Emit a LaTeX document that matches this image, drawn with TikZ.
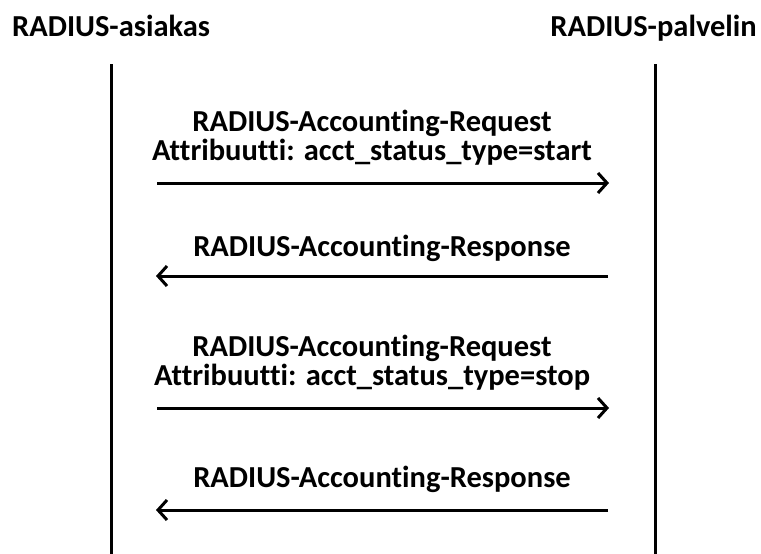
\documentclass[tikz,border=0pt]{standalone}
\usepackage{fontspec}
\setmainfont{Carlito}[Ligatures=CommonOff]
\usetikzlibrary{arrows.meta}
\begin{document}
\begin{tikzpicture}[x=1pt,y=-1pt,
  lifeline/.style={line width=3pt},
  msg/.style={line width=3pt,-{Straight Barb[length=9pt,width=20pt,line width=3pt]}},
  lbl/.style={font=\bfseries\fontsize{30.5}{29}\selectfont,align=center,inner sep=0pt,anchor=base},
  party/.style={font=\bfseries\fontsize{30.5}{29}\selectfont,inner sep=0pt,anchor=base}]
\useasboundingbox (0,0) rectangle (761,554);
% participants
\node[party,anchor=base west] (client) at (12,36) {RADIUS-asiakas};
\node[party,anchor=base east] (server) at (757,36) {RADIUS-palvelin};
% lifelines
\coordinate (ctop) at (111,64);
\coordinate (cbot) at (111,554);
\coordinate (stop) at (655,64);
\coordinate (sbot) at (655,554);
\draw[lifeline] (ctop) -- (cbot);
\draw[lifeline] (stop) -- (sbot);
% message endpoints
\coordinate (a1s) at (157,183); \coordinate (a1e) at (609,183);
\coordinate (a2s) at (608,276); \coordinate (a2e) at (156,276);
\coordinate (a3s) at (157,408); \coordinate (a3e) at (609,408);
\coordinate (a4s) at (608,510); \coordinate (a4e) at (156,510);
\draw[msg] (a1s) -- (a1e);
\draw[msg] (a2s) -- (a2e);
\draw[msg] (a3s) -- (a3e);
\draw[msg] (a4s) -- (a4e);
% message labels (two-line labels are anchored at the baseline of their last line)
\node[lbl] (m1) at (372,160) {RADIUS-Accounting-Request\\Attribuutti: acct\_status\_type=start};
\node[lbl] (m2) at (382,256) {RADIUS-Accounting-Response};
\node[lbl] (m3) at (372,385) {RADIUS-Accounting-Request\\Attribuutti: acct\_status\_type=stop};
\node[lbl] (m4) at (382,487) {RADIUS-Accounting-Response};
\end{tikzpicture}
\end{document}
